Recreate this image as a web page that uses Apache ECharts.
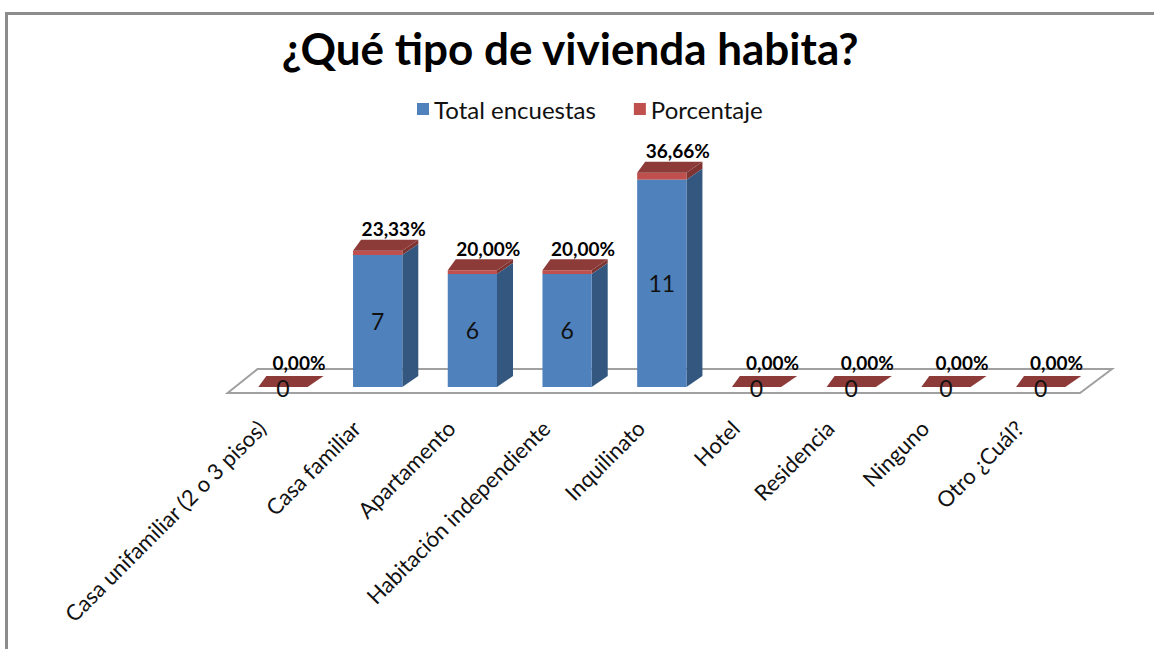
<!DOCTYPE html>
<html>
<head>
<meta charset="utf-8">
<script src="https://cdn.jsdelivr.net/npm/echarts@6/dist/echarts.min.js"></script>
<style>
  html, body { margin: 0; padding: 0; background: #fff; }
  #chart { width: 1154px; height: 649px; }
  .frame {
    position: absolute; left: 5px; top: 12px; right: -10px; bottom: -10px;
    border-top: 3px solid #8c8c8c; border-left: 3px solid #8c8c8c;
    pointer-events: none;
  }
</style>
</head>
<body>
<div id="chart"></div>
<div class="frame"></div>
<script>
const categories = [
  'Casa unifamiliar (2 o 3 pisos)', 'Casa familiar', 'Apartamento',
  'Habitación independiente', 'Inquilinato', 'Hotel', 'Residencia',
  'Ninguno', 'Otro ¿Cuál?'
]
const totalEncuestas = [0, 7, 6, 6, 11, 0, 0, 0, 0]
const porcentaje = [0, 23.33, 20.00, 20.00, 36.66, 0, 0, 0, 0]

const BLUE = '#4f81bd', BLUE_SIDE = '#34577f'
const RED = '#c0504d', RED_TOP = '#8d3b39', RED_SIDE = '#7f3432'
const FONT = 'Lato, "Open Sans", sans-serif'

// fake 3D look, back edge is a bit wider than the front (like Excel's perspective)
const DEPTH_L = 8, DEPTH_R = 16, DEPTH_Y = -11

function barGeom(api, i, from, to) {
  const b = api.coord([i, from])
  const t = api.coord([i, to])
  const w = api.size([1, 0])[0] * 0.52
  return { x0: b[0] - w / 2, x1: b[0] + w / 2, cx: b[0], yb: b[1], yt: t[1] }
}

function renderBlue(params, api) {
  const i = api.value(0), v = api.value(1)
  const g = barGeom(api, i, 0, v)
  const children = []
  if (g.yb - g.yt > 0.5) {
    children.push({
      type: 'polygon',
      shape: { points: [[g.x1, g.yt], [g.x1 + DEPTH_R, g.yt + DEPTH_Y], [g.x1 + DEPTH_R, g.yb + DEPTH_Y], [g.x1, g.yb]] },
      style: { fill: BLUE_SIDE }
    })
    children.push({
      type: 'rect',
      shape: { x: g.x0, y: g.yt, width: g.x1 - g.x0, height: g.yb - g.yt },
      style: { fill: BLUE }
    })
  }
  children.push({
    type: 'text',
    style: {
      text: String(v), x: g.cx, y: (g.yt + g.yb) / 2 + (v ? 0 : 1),
      align: 'center', verticalAlign: 'middle',
      font: '23px ' + FONT, fill: '#111'
    }
  })
  return { type: 'group', children }
}

function renderRed(params, api) {
  const i = api.value(0), t = api.value(1), p = api.value(2)
  const g = barGeom(api, i, t, t + p / 100)
  const children = [
    {
      type: 'polygon',
      shape: { points: [[g.x1, g.yt], [g.x1 + DEPTH_R, g.yt + DEPTH_Y], [g.x1 + DEPTH_R, g.yb + DEPTH_Y], [g.x1, g.yb]] },
      style: { fill: RED_SIDE }
    },
    {
      type: 'rect',
      shape: { x: g.x0, y: g.yt, width: g.x1 - g.x0, height: g.yb - g.yt },
      style: { fill: RED }
    },
    {
      type: 'polygon',
      shape: { points: [[g.x0, g.yt], [g.x0 + DEPTH_L, g.yt + DEPTH_Y], [g.x1 + DEPTH_R, g.yt + DEPTH_Y], [g.x1, g.yt]] },
      style: { fill: RED_TOP }
    },
    {
      type: 'text',
      style: {
        text: p.toFixed(2).replace('.', ',') + '%',
        x: g.cx + 16, y: g.yt - (p ? 22 : 25),
        align: 'center', verticalAlign: 'middle',
        font: 'bold 19px ' + FONT, fill: '#000'
      }
    }
  ]
  return { type: 'group', children }
}

// floor plate under the bars
function renderFloor(params, api) {
  const w = api.size([1, 0])[0]
  const a = api.coord([0, 0])
  const b = api.coord([categories.length - 1, 0])
  const left = a[0] - w / 2, right = b[0] + w / 2, y = a[1]
  return {
    type: 'polygon',
    shape: { points: [[left - 8, y + 6], [left + 22, y - 18], [right + 24, y - 18], [right - 8, y + 6]] },
    style: { fill: '#fff', stroke: '#a0a0a0', lineWidth: 2 }
  }
}

const chart = echarts.init(document.getElementById('chart'), null, { renderer: 'svg' })
chart.setOption({
  animation: false,
  title: {
    text: '¿Qué tipo de vivienda habita?',
    left: 565, top: 21, textAlign: 'center',
    textStyle: { fontFamily: FONT, fontWeight: 'bold', fontSize: 44, color: '#000' }
  },
  legend: {
    data: ['Total encuestas', 'Porcentaje'],
    top: 92, left: 412,
    icon: 'rect', itemWidth: 12, itemHeight: 12, itemGap: 38,
    textStyle: { fontFamily: FONT, fontSize: 24, color: '#111' }
  },
  grid: { left: 235.6, right: 1154 - 1088, top: 160.8, bottom: 649 - 387 },
  xAxis: {
    type: 'category',
    data: categories,
    axisLine: { show: false },
    axisTick: { show: false },
    axisLabel: {
      rotate: 45, interval: 0, margin: 16,
      padding: [0, 30, 0, 0],
      fontFamily: FONT, fontSize: 22, color: '#111'
    }
  },
  yAxis: { type: 'value', min: 0, max: 12, show: false },
  series: [
    {
      name: 'floor', type: 'custom', z: 1, silent: true,
      renderItem: renderFloor, data: [[0, 0]],
      encode: { x: 0, y: 1 }
    },
    {
      name: 'Porcentaje', type: 'custom', z: 2,
      itemStyle: { color: RED },
      renderItem: renderRed,
      data: totalEncuestas.map((t, i) => [i, t, porcentaje[i]]),
      encode: { x: 0, y: 1 }
    },
    {
      name: 'Total encuestas', type: 'custom', z: 3,
      itemStyle: { color: BLUE },
      renderItem: renderBlue,
      data: totalEncuestas.map((t, i) => [i, t]),
      encode: { x: 0, y: 1 }
    }
  ]
})
</script>
</body>
</html>
